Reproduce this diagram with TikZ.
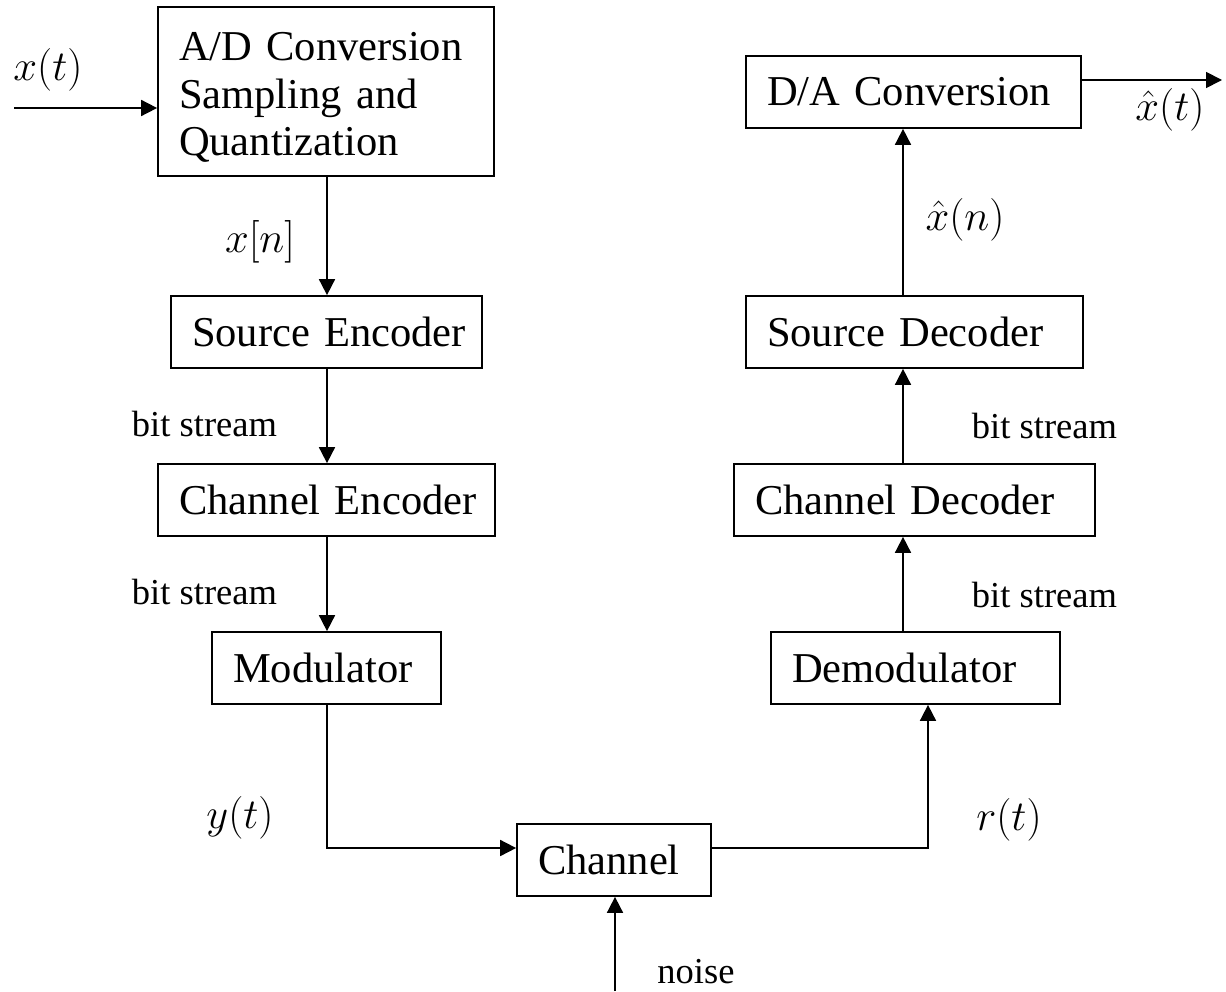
\RequirePackage{fix-cm}
\documentclass[tikz,border=0pt]{standalone}
\usepackage{fontspec}
\setmainfont{Liberation Serif}
\usetikzlibrary{arrows.meta,calc}
\newcommand\boxfont{\fontsize{31.9}{35.6}\selectfont}
\newcommand\lblfont{\fontsize{27.4}{30}\selectfont}
\newcommand\mfont{\fontsize{32}{36}\selectfont}
\tikzset{
  blk/.style={draw, line width=1.3pt, inner xsep=15.75pt, inner ysep=0pt,
    minimum height=54pt, align=left, font=\boxfont},
  arr/.style={line width=1.3pt, -{Triangle[length=12pt,width=12pt]}},
  lbl/.style={font=\lblfont, inner sep=0pt},
  mlbl/.style={font=\mfont, inner sep=0pt}
}
\begin{document}
\begin{tikzpicture}[x=0.75pt,y=-0.75pt]
\useasboundingbox (0,0) rectangle (1226,991);
% blocks
\node[blk, text width=220.5pt, minimum height=126.75pt] (ad) at (326,91.5)
  {\rule{0pt}{30pt}\mbox{A/D Conversion}\\\mbox{Sampling and}\\\mbox{Quantization}};
\node[blk, text width=219.75pt] (da) at (913.5,92) {\mbox{D/A Conversion}};
\node[blk, text width=201.75pt] (se) at (326.5,332) {\mbox{Source Encoder}};
\node[blk, text width=221.25pt] (sd) at (914.5,332) {\mbox{Source Decoder}};
\node[blk, text width=221.25pt] (ce) at (326.5,500) {\mbox{Channel Encoder}};
\node[blk, text width=239.25pt] (cd) at (914.5,500) {\mbox{Channel Decoder}};
\node[blk, text width=140.25pt] (mod) at (326.5,668) {\mbox{Modulator}};
\node[blk, text width=185.25pt] (dem) at (915.5,668) {\mbox{Demodulator}};
\node[blk, text width=114pt] (ch) at (614,860) {\mbox{Channel}};
% helper coordinates
\coordinate (lc) at (327,0);
\coordinate (rc) at (903,0);
\coordinate (dc) at (928,0);
\coordinate (cy) at (0,848);
\coordinate (in) at (14,108);
\coordinate (out) at (1222,80);
\coordinate (nz) at (615,991);
% connectors
\draw[arr] (in) -- (in -| ad.west);
\draw[arr] (ad.south -| lc) -- (se.north -| lc);
\draw[arr] (se.south -| lc) -- (ce.north -| lc);
\draw[arr] (ce.south -| lc) -- (mod.north -| lc);
\draw[arr] (mod.south -| lc) |- (ch.west |- cy);
\draw[arr] (ch.east |- cy) -| (dem.south -| dc);
\draw[arr] (nz) -- (nz |- ch.south);
\draw[arr] (dem.north -| rc) -- (cd.south -| rc);
\draw[arr] (cd.north -| rc) -- (sd.south -| rc);
\draw[arr] (sd.north -| rc) -- (da.south -| rc);
\draw[arr] (out -| da.east) -- (out);
% labels
\node[mlbl] (lxt) at (48,70) {$x(t)$};
\node[mlbl] (lxn) at (260,242) {$x[n]$};
\node[lbl] (lb1) at (204.5,424) {bit stream};
\node[lbl] (lb2) at (204.5,592) {bit stream};
\node[mlbl] (lyt) at (240,818) {$y(t)$};
\node[lbl] (lnz) at (696,972) {noise};
\node[mlbl] (lrt) at (1009,820) {$r(t)$};
\node[lbl] (lb3) at (1044.5,426) {bit stream};
\node[lbl] (lb4) at (1044.5,595) {bit stream};
\node[mlbl] (lxhn) at (965,220) {$\hat{x}(n)$};
\node[mlbl] (lxht) at (1170,110) {$\hat{x}(t)$};
\end{tikzpicture}
\end{document}
